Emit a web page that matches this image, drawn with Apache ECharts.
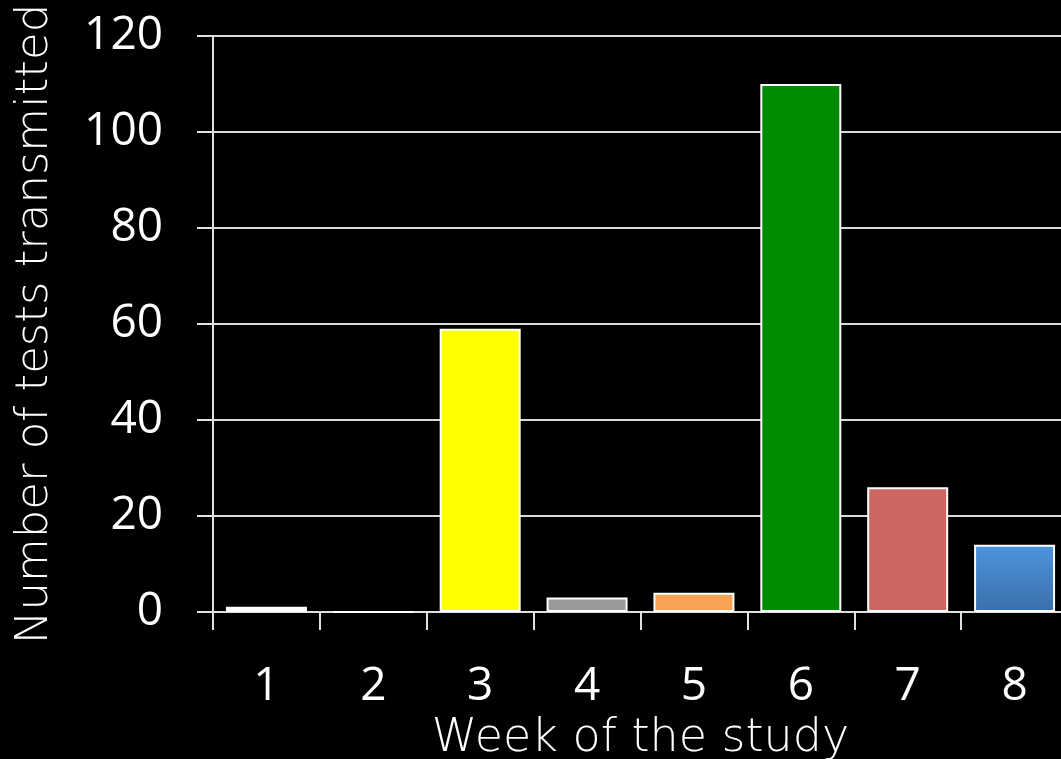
<!DOCTYPE html>
<html><head><meta charset="utf-8">
<script src="https://cdn.jsdelivr.net/npm/echarts@6/dist/echarts.min.js"></script>
<style>html,body{margin:0;padding:0;background:#000;}#c{width:1061px;height:759px;}</style>
</head><body><div id="c"></div>
<script>
const categories = ['1','2','3','4','5','6','7','8'];
const values = [1.1, 0, 59, 3, 4, 110, 26, 14];
const barColors = ['#ffffff','#ffffff','#ffff00','#9a9a9a','#f9a354','#008c00','#cd6660',
  {type:'linear',x:0,y:0,x2:0,y2:1,colorStops:[{offset:0,color:'#4d94dc'},{offset:1,color:'#3a6fab'}]}];
const yTicks = {min:0, max:120, interval:20};

const chart = echarts.init(document.getElementById('c'));
chart.setOption({
  backgroundColor:'#000',
  animation:false,
  grid:{left:213, right:-7, top:36, bottom:147, containLabel:false, outerBoundsMode:'none'},
  xAxis:{
    type:'category', data:categories,
    axisLine:{lineStyle:{color:'#e0e0e0', width:2}},
    axisTick:{show:true, length:18, lineStyle:{color:'#e0e0e0', width:2}},
    axisLabel:{color:'#fff', fontSize:46, fontFamily:'Open Sans', margin:52},
    name:'Week of the study', nameLocation:'middle', nameGap:104,
    nameTextStyle:{color:'#fff', fontSize:46, fontFamily:'DejaVu Sans', fontWeight:200}
  },
  yAxis:{
    type:'value', min:yTicks.min, max:yTicks.max, interval:yTicks.interval,
    axisLine:{show:true, lineStyle:{color:'#e0e0e0', width:2}},
    axisTick:{show:true, length:16, lineStyle:{color:'#e0e0e0', width:2}},
    splitLine:{lineStyle:{color:'#d9d9d9', width:2}},
    axisLabel:{color:'#fff', fontSize:46, fontFamily:'Open Sans', margin:50},
    name:'Number of tests transmitted', nameLocation:'middle', nameGap:155,
    nameTextStyle:{color:'#fff', fontSize:45, fontFamily:'DejaVu Sans', fontWeight:200}
  },
  series:[{
    type:'bar', barWidth:81,
    data: values.map((v,i)=>({value:v, itemStyle:{color:barColors[i]}})),
    itemStyle:{borderColor:'#ffffff', borderWidth:2}
  }]
});
</script></body></html>
